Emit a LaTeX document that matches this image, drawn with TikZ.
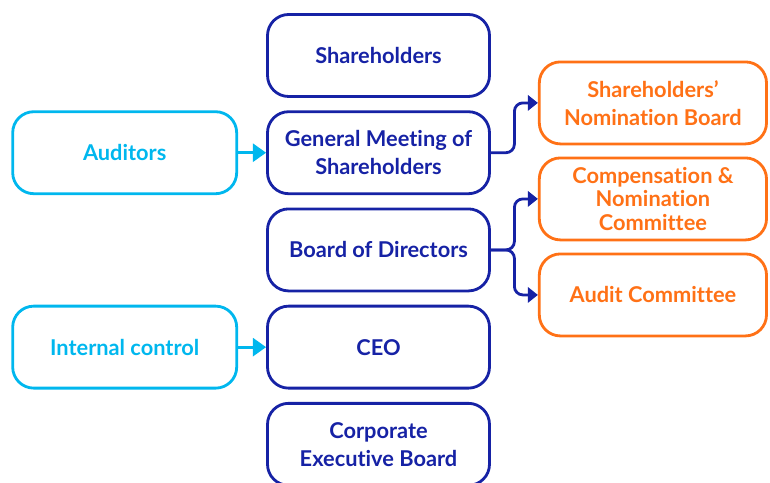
\documentclass[tikz,border=0pt]{standalone}
\usepackage{fontspec}
\setmainfont{Lato}[Ligatures=NoCommon]
\usetikzlibrary{arrows.meta,positioning,calc}
\definecolor{navy}{RGB}{22,34,165}
\definecolor{skyblue}{RGB}{0,183,238}
\definecolor{flame}{RGB}{255,113,22}
\tikzset{
    every node/.style={font=\bfseries\fontsize{15.5}{20}\selectfont},
}

\begin{document}
\begin{tikzpicture}[
        node distance=0.31cm,
        line width=2pt,
        govbox/.style={rectangle, draw=navy, text=navy, rounded corners=15pt, minimum width=5.55cm, minimum height=2.05cm, align=center, inner sep=0pt},
        ctrlbox/.style={govbox, draw=skyblue, text=skyblue, minimum width=5.6cm},
        cmtbox/.style={govbox, draw=flame, text=flame, minimum width=5.68cm},
        ctrlarrow/.style={draw=skyblue, -{Triangle[length=3.3mm,width=4.5mm]}},
        cmtarrow/.style={draw=navy, rounded corners=6pt, -{Triangle[length=2.5mm,width=3.8mm]}}
    ]
    \useasboundingbox (0,0) rectangle (19.25,-12.075);

    % Nodes
    \node[govbox] (shareholders) at (9.4625,-1.3875) {Shareholders};
    \node[govbox, below=of shareholders] (meeting) {General Meeting of\\Shareholders};
    \node[govbox, below=of meeting] (board) {Board of Directors};
    \node[govbox, below=of board] (ceo) {CEO};
    \node[govbox, below=of ceo] (executive) {Corporate\\Executive Board};

    % Control bodies on the left
    \node[ctrlbox, left=0.7cm of meeting] (auditors) {Auditors};
    \node[ctrlbox, left=0.7cm of ceo] (internal) {Internal control};

    % Committees on the right
    \node[cmtbox, right=1.175cm of board, yshift=1.275cm,
          font=\bfseries\fontsize{15.5}{17}\selectfont] (compensation) {Compensation \&\\Nomination\\Committee};
    \node[cmtbox, above=0.28cm of compensation] (nomination) {Shareholders'\\Nomination Board};
    \node[cmtbox, below=0.28cm of compensation] (audit) {Audit Committee};

    % Connections
    \draw[ctrlarrow] (auditors) -- (meeting);
    \draw[ctrlarrow] (internal) -- (ceo);
    \draw[cmtarrow] (meeting.east) -| ($(meeting.east)!0.5!(nomination.west)$) |- (nomination.west);
    \draw[cmtarrow] (board.east) -| ($(board.east)!0.5!(compensation.west)$) |- (compensation.west);
    \draw[cmtarrow] (board.east) -| ($(board.east)!0.5!(audit.west)$) |- (audit.west);

\end{tikzpicture}
\end{document}
